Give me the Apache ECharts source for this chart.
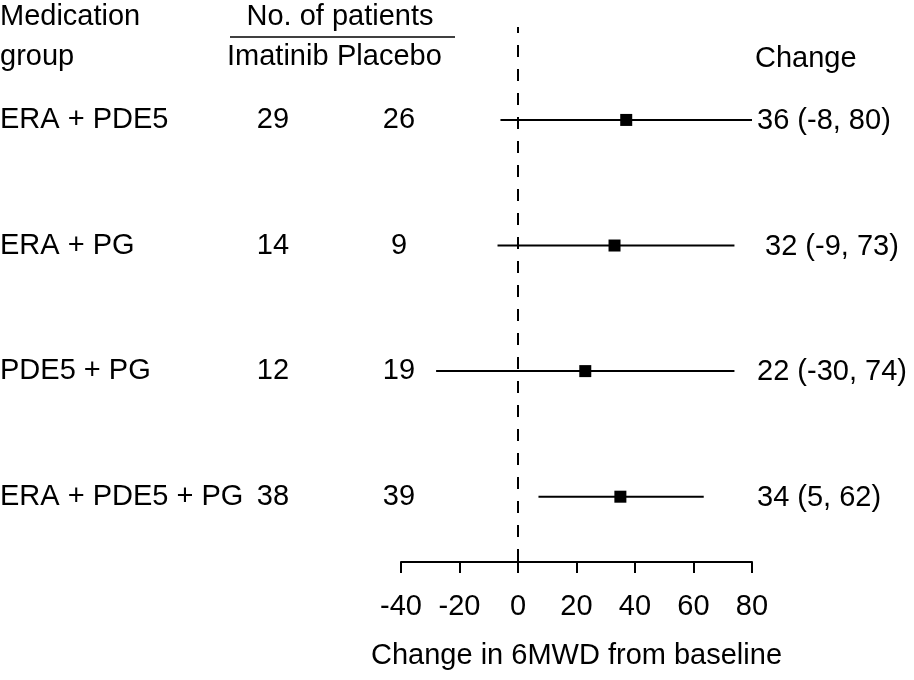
<!DOCTYPE html>
<html><head><meta charset="utf-8">
<script src="https://cdn.jsdelivr.net/npm/echarts@6/dist/echarts.min.js"></script>
<style>html,body{margin:0;padding:0;background:#fff}#c{width:914px;height:680px}</style>
</head><body><div id="c"></div><script>
// ---- data ----
const groups = ["ERA + PDE5", "ERA + PG", "PDE5 + PG", "ERA + PDE5 + PG"];
const nImatinib = [29, 14, 12, 38];
const nPlacebo = [26, 9, 19, 39];
const estimate = [37, 33, 23, 35];
const lower = [-6, -7, -28, 7];
const upper = [80, 74, 74, 63.5];
const changeLabels = ["36 (-8, 80)", " 32 (-9, 73)", "22 (-30, 74)", "34 (5, 62)"];
const rows = [1, 2, 3, 4];
const xMin = -40, xMax = 80, xStep = 20;
const axisTitle = "Change in 6MWD from baseline";

const FONT = "'Liberation Sans', Arial, Helvetica, sans-serif";
const FS = 29;
const chart = echarts.init(document.getElementById('c'), null, {renderer: 'canvas'});

chart.setOption({
  animation: false,
  backgroundColor: '#fff',
  grid: {left: 401, right: 162, top: 27, bottom: 118},
  xAxis: {
    type: 'value', min: xMin, max: xMax, interval: xStep,
    axisLine: {show: true, onZero: false, lineStyle: {color: '#000', width: 2}},
    axisTick: {show: true, length: 11, lineStyle: {color: '#000', width: 2}},
    axisLabel: {color: '#000', fontSize: FS, fontFamily: FONT, margin: 30},
    splitLine: {show: false},
    name: axisTitle, nameLocation: 'middle', nameGap: 79,
    nameTextStyle: {color: '#000', fontSize: FS, fontFamily: FONT}
  },
  yAxis: {type: 'value', inverse: true, min: 0.26, max: 4.52, show: false, splitLine: {show: false}},
  series: [
    {
      type: 'custom',
      encode: {x: [1, 2], y: 0},
      data: rows.map((r, i) => [r, lower[i], upper[i]]),
      renderItem: function (params, api) {
        const y = api.value(0);
        const p1 = api.coord([api.value(1), y]);
        const p2 = api.coord([api.value(2), y]);
        return {type: 'line', shape: {x1: p1[0], y1: p1[1], x2: p2[0], y2: p2[1]},
                style: {stroke: '#000', lineWidth: 2}};
      },
      markLine: {
        silent: true, symbol: 'none', label: {show: false},
        lineStyle: {color: '#000', width: 2, type: [12, 12], dashOffset: 6},
        data: [{xAxis: 0}]
      }
    },
    {
      type: 'scatter',
      symbol: 'rect', symbolSize: 12,
      itemStyle: {color: '#000', opacity: 1},
      data: rows.map((r, i) => [estimate[i], r]),
      z: 5
    }
  ]
});

function txt(x, y, s, align) {
  return {type: 'text', x: x, y: y, silent: true,
    style: {text: s, fill: '#000', font: FS + 'px ' + FONT, align: align || 'left', verticalAlign: 'middle'}};
}
const g = [];
g.push(txt(0, 17, 'Medication'));
g.push(txt(0, 57, 'group'));
g.push(txt(340, 17, 'No. of patients', 'center'));
g.push({type: 'line', silent: true, shape: {x1: 230, y1: 37, x2: 455, y2: 37}, style: {stroke: '#000', lineWidth: 1.5}});
g.push(txt(227, 57, 'Imatinib'));
g.push(txt(337, 57, 'Placebo'));
g.push(txt(755, 59, 'Change'));
rows.forEach((r, i) => {
  const y = chart.convertToPixel({gridIndex: 0}, [0, r])[1];
  g.push(txt(0, y, groups[i]));
  g.push(txt(273, y, String(nImatinib[i]), 'center'));
  g.push(txt(399, y, String(nPlacebo[i]), 'center'));
  g.push(txt(757, y + 1, changeLabels[i]));
});
chart.setOption({graphic: g});
</script></body></html>
